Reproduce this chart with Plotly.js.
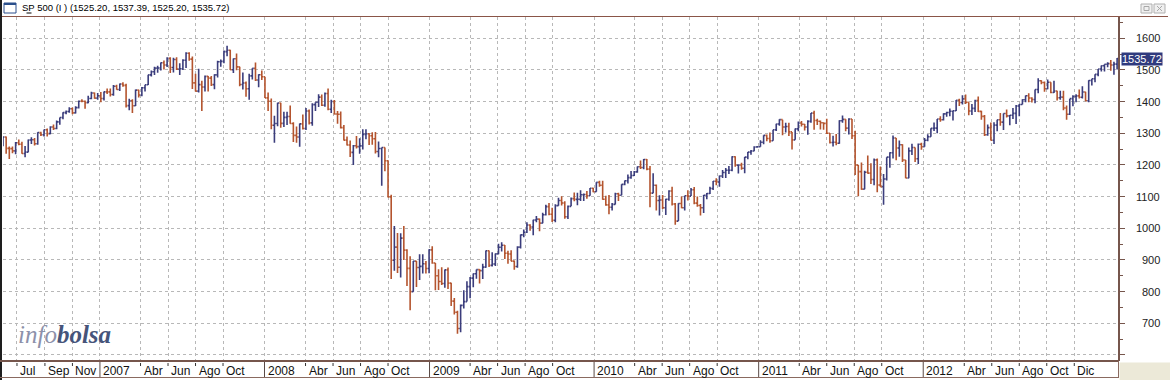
<!DOCTYPE html>
<html>
<head>
<meta charset="utf-8">
<script src="https://cdn.plot.ly/plotly-3.0.1.min.js"></script>
<style>html,body{margin:0;padding:0;background:#fff;}#chart{width:1170px;height:380px;}</style>
</head>
<body>
<div id="chart"></div>
<script>
// ---- Data: weekly S&P 500 bars (week-ending Friday, Jun 2006 - Mar 2013) ----
const firstWeek = '2006-05-31';          // Wednesday of first week shown
const firstOpen = 1280.2;

const close06 = [1288.2,1252.3,1251.5,1244.5,1270.2,1265.5,1236.2,1240.3,1278.6,1279.4,1266.7,1302.3,1295.1,1311.0,1298.9,1319.7,1314.8,1335.8,1349.6,1365.2,1368.6,1377.3,1364.3,1380.9,1401.2,1400.9,1396.7,1409.8,1427.1,1410.8,1418.3];
const high06  = [1290,1290,1258,1258,1272,1280,1273,1260,1280,1287,1285,1303,1305,1312,1315,1322,1328,1340,1350,1366,1372,1382,1381,1385,1403,1407,1403,1418,1431,1429,1427];
const low06   = [1259,1235,1219,1237,1234,1262,1235,1224,1240,1266,1261,1264,1291,1290,1290,1297,1310,1313,1327,1344,1360,1365,1360,1362,1378,1398,1377,1395,1407,1409,1406];

const close07 = [1409.7,1430.7,1430.5,1422.2,1448.4,1438.1,1455.5,1451.2,1387.2,1402.8,1386.9,1436.1,1420.9,1443.8,1452.9,1484.4,1494.3,1505.6,1505.9,1522.8,1515.7,1536.3,1507.7,1532.9,1502.6,1503.4,1530.4,1552.5,1534.1,1458.9,1433.1,1453.6,1445.9,1479.4,1474.0,1453.6,1484.3,1525.8,1526.8,1557.6,1561.8,1500.6,1535.3,1509.7,1453.7,1458.7,1440.7,1481.1,1504.7,1468.0,1484.5,1478.5];
const high07  = [1430,1432,1441,1441,1452,1453,1457,1461,1456,1409,1407,1438,1437,1446,1453,1485,1498,1510,1513,1523,1530,1540,1540,1538,1540,1521,1534,1556,1556,1542,1488,1504,1466,1482,1481,1481,1486,1529,1533,1561,1576,1564,1536,1552,1510,1492,1463,1488,1505,1523,1486,1498];
const low07   = [1398,1403,1424,1416,1418,1437,1433,1447,1381,1373,1364,1386,1413,1417,1432,1452,1479,1484,1491,1498,1501,1509,1490,1492,1500,1484,1500,1506,1529,1440,1432,1429,1370,1432,1432,1449,1439,1476,1510,1521,1543,1500,1490,1499,1448,1438,1415,1406,1470,1465,1445,1468];

const close08 = [1411.6,1401.0,1325.2,1330.6,1395.4,1331.3,1350.0,1353.1,1330.6,1293.4,1288.1,1329.5,1315.2,1370.4,1332.8,1390.3,1397.8,1413.9,1388.3,1425.4,1375.9,1400.4,1360.7,1360.0,1317.9,1278.4,1262.9,1239.5,1260.7,1257.8,1260.3,1296.3,1298.2,1292.2,1282.8,1242.3,1251.7,1255.1,1213.3,1099.2,899.2,940.6,876.8,968.8,931.0,873.3,800.0,896.2,876.1,879.7,887.9,872.8];
const high08  = [1471,1429,1410,1355,1396,1396,1368,1368,1388,1335,1321,1331,1359,1380,1375,1395,1398,1423,1422,1429,1441,1406,1405,1370,1369,1326,1290,1277,1263,1291,1284,1313,1313,1300,1303,1304,1274,1255,1255,1215,1106,1007,985,984,1007,934,912,897,897,918,918,897];
const low08   = [1411,1370,1313,1270,1322,1317,1320,1326,1330,1272,1270,1257,1312,1310,1328,1324,1370,1383,1386,1384,1373,1364,1359,1330,1315,1277,1261,1225,1200,1252,1235,1249,1281,1263,1264,1236,1224,1134,1180,1097,840,866,859,845,900,818,741,800,815,837,857,857];

const close09 = [931.8,890.4,850.1,832.0,825.9,868.6,826.8,770.1,735.1,683.4,756.6,768.5,815.9,842.5,856.6,869.6,866.2,877.5,929.2,882.9,887.0,919.1,940.1,946.2,921.2,918.9,896.4,879.1,940.4,979.3,987.5,1010.5,1004.1,1026.1,1028.9,1016.4,1042.7,1068.3,1044.4,1025.2,1071.5,1087.7,1079.6,1036.2,1069.3,1093.5,1091.4,1091.5,1106.0,1106.4,1102.5,1126.5];
const high09  = [934,943,890,871,877,870,876,828,780,740,759,804,833,846,857,870,871,888,930,930,924,920,951,956,947,929,931,898,943,980,996,1019,1013,1027,1039,1031,1049,1074,1080,1065,1076,1096,1101,1085,1072,1097,1113,1112,1120,1110,1118,1127];
const low09   = [858,888,804,805,821,812,808,755,728,667,672,747,769,779,814,841,826,840,875,878,879,881,918,927,903,888,896,869,875,936,972,985,992,978,1019,991,1016,1040,1041,1020,1019,1071,1072,1030,1029,1070,1085,1073,1086,1086,1093,1103];

const close10 = [1115.1,1145.0,1136.0,1091.8,1073.9,1066.2,1075.5,1109.2,1104.5,1138.7,1150.0,1159.9,1166.6,1178.1,1194.4,1192.1,1217.3,1186.7,1110.9,1135.7,1087.7,1089.4,1064.9,1091.6,1117.5,1076.8,1022.6,1078.0,1064.9,1102.7,1101.6,1121.6,1079.3,1071.7,1064.6,1104.5,1109.6,1125.6,1148.7,1146.2,1165.2,1176.2,1183.1,1183.3,1225.9,1199.2,1199.7,1189.4,1224.7,1240.4,1243.9,1256.8,1257.6];
const high10  = [1128,1145,1150,1150,1103,1105,1080,1112,1112,1139,1151,1170,1181,1181,1195,1214,1219,1219,1197,1174,1138,1104,1105,1093,1120,1131,1080,1079,1100,1103,1120,1127,1130,1100,1077,1105,1111,1131,1149,1158,1167,1184,1190,1197,1227,1227,1202,1207,1225,1241,1247,1259,1260];
const low10   = [1114,1116,1131,1090,1071,1044,1056,1075,1086,1105,1136,1141,1156,1165,1175,1187,1186,1183,1066,1122,1056,1040,1061,1042,1087,1072,1011,1023,1063,1056,1088,1104,1076,1068,1040,1048,1092,1108,1121,1136,1131,1159,1159,1171,1180,1194,1173,1185,1174,1218,1232,1243,1254];

const close11 = [1271.5,1293.2,1283.4,1276.3,1310.9,1329.2,1343.0,1319.9,1321.2,1304.3,1279.2,1313.8,1332.4,1328.2,1319.7,1337.4,1363.6,1340.2,1337.8,1333.3,1331.1,1300.2,1271.0,1271.5,1268.5,1339.7,1343.8,1316.1,1345.0,1292.3,1199.4,1178.8,1123.5,1176.8,1174.0,1154.2,1216.0,1136.4,1131.4,1155.5,1224.6,1238.3,1285.1,1253.2,1263.9,1215.7,1158.7,1244.3,1255.2,1219.7,1265.3,1257.6];
const high11  = [1278,1294,1296,1302,1311,1330,1344,1343,1333,1333,1303,1315,1337,1339,1329,1341,1364,1371,1346,1340,1334,1346,1301,1292,1298,1341,1356,1344,1347,1345,1308,1200,1208,1182,1230,1205,1220,1220,1195,1171,1224,1240,1293,1285,1277,1265,1215,1255,1267,1255,1268,1270];
const low11   = [1257,1265,1275,1270,1276,1307,1324,1294,1302,1291,1249,1280,1306,1321,1309,1295,1333,1311,1326,1312,1311,1298,1268,1258,1262,1267,1333,1306,1296,1282,1168,1101,1122,1124,1172,1140,1136,1114,1131,1074,1151,1191,1220,1215,1226,1209,1158,1158,1231,1209,1203,1248];

const close12 = [1277.8,1289.1,1315.4,1316.3,1344.9,1342.6,1361.2,1365.7,1369.6,1370.9,1404.2,1397.1,1408.5,1398.1,1370.3,1378.5,1403.4,1369.1,1353.4,1295.2,1317.8,1278.0,1325.7,1342.8,1335.0,1362.2,1354.7,1356.8,1362.7,1386.0,1391.0,1405.9,1418.2,1411.1,1406.6,1437.9,1465.8,1460.2,1440.7,1460.9,1428.6,1433.2,1411.9,1414.2,1379.9,1359.9,1409.2,1416.2,1418.1,1413.6,1430.2,1402.4];
const high12  = [1285,1297,1316,1334,1345,1354,1363,1368,1378,1372,1405,1409,1420,1422,1397,1392,1406,1416,1371,1358,1328,1334,1335,1343,1364,1362,1375,1357,1380,1389,1392,1407,1419,1426,1414,1438,1474,1467,1463,1470,1461,1466,1434,1434,1434,1388,1409,1420,1423,1438,1448,1431];
const low12   = [1258,1275,1290,1307,1300,1336,1340,1352,1354,1340,1370,1386,1391,1392,1357,1358,1367,1367,1343,1291,1292,1277,1266,1306,1324,1310,1350,1325,1345,1329,1354,1391,1398,1398,1397,1395,1426,1455,1431,1439,1426,1427,1403,1406,1373,1343,1358,1385,1398,1410,1410,1401];

const close13 = [1466.5,1472.1,1486.0,1503.0,1513.2,1517.9,1519.8,1515.6,1518.2,1535.72];
const high13  = [1467,1472,1486,1503,1514,1518,1524,1531,1526,1537.39];
const low13   = [1398,1451,1461,1480,1495,1495,1508,1497,1485,1501];

// Axis labels
const tickDates  = ['2006-07-01','2006-09-01','2006-11-01','2007-01-01','2007-04-01','2007-06-01','2007-08-01','2007-10-01',
                    '2008-01-01','2008-04-01','2008-06-01','2008-08-01','2008-10-01','2009-01-01','2009-04-01','2009-06-01','2009-08-01','2009-10-01',
                    '2010-01-01','2010-04-01','2010-06-01','2010-08-01','2010-10-01','2011-01-01','2011-04-01','2011-06-01','2011-08-01','2011-10-01',
                    '2012-01-01','2012-04-01','2012-06-01','2012-08-01','2012-10-01','2012-12-01'];
const tickLabels = ['Jul','Sep','Nov','2007','Abr','Jun','Ago','Oct','2008','Abr','Jun','Ago','Oct','2009','Abr','Jun','Ago','Oct',
                    '2010','Abr','Jun','Ago','Oct','2011','Abr','Jun','Ago','Oct','2012','Abr','Jun','Ago','Oct','Dic'];
const priceTicks = [600,700,800,900,1000,1100,1200,1300,1400,1500,1600];
const priceLabels = ['','700','800','900','1000','1100','1200','1300','1400','1500','1600'];
const titleText = 'SP 500 (I ) (1525.20, 1537.39, 1525.20, 1535.72)';
const lastPrice = 1535.72;

// ---- Build the table ----
const close = [].concat(close06,close07,close08,close09,close10,close11,close12,close13);
const high  = [].concat(high06,high07,high08,high09,high10,high11,high12,high13);
const low   = [].concat(low06,low07,low08,low09,low10,low11,low12,low13);
const open  = close.map((c,i)=> i===0 ? firstOpen : close[i-1]);
const hi = high.map((h,i)=>Math.max(h,open[i],close[i]));
const lo = low.map((l,i)=>Math.min(l,open[i],close[i]));
const t0 = Date.parse(firstWeek+'T00:00:00Z');
const dates = close.map((c,i)=> new Date(t0 + i*7*86400000).toISOString().slice(0,10));

const UP = '#3b3d7c', DN = '#b4542e', BROWN = '#76564c';
const FONT = 'Liberation Sans, Arial, sans-serif';

// pixel helpers for frame decorations
const PL=3, PR=1118, PT=17, PB=361;
const px = x => (x-PL)/(PR-PL);
const py = y => (PB-y)/(PB-PT);

const shapes = [];
const ann = [];
// title bar
shapes.push({type:'rect',xref:'paper',yref:'paper',x0:px(0),x1:px(1170),y0:py(0),y1:py(16),fillcolor:'#ffffff',line:{width:0},layer:'below'});
shapes.push({type:'line',xref:'paper',yref:'paper',x0:px(0),x1:px(1168),y0:py(16.5),y1:py(16.5),line:{color:'#8a5548',width:1}});
// window icon
shapes.push({type:'rect',xref:'paper',yref:'paper',x0:px(4),x1:px(16),y0:py(3),y1:py(13),fillcolor:'#ffffff',line:{color:'#2a4f8c',width:1}});
shapes.push({type:'rect',xref:'paper',yref:'paper',x0:px(4),x1:px(16),y0:py(3),y1:py(5),fillcolor:'#2a4f8c',line:{width:0}});
// underline of P
shapes.push({type:'line',xref:'paper',yref:'paper',x0:px(26.5),x1:px(31.5),y0:py(13),y1:py(13),line:{color:'#000',width:1}});
// title-bar buttons
shapes.push({type:'rect',xref:'paper',yref:'paper',x0:px(1141),x1:px(1152),y0:py(4),y1:py(13),fillcolor:'#f0f0f0',line:{color:'#b0b0b0',width:1}});
shapes.push({type:'rect',xref:'paper',yref:'paper',x0:px(1144),x1:px(1149),y0:py(6.5),y1:py(10.5),fillcolor:'rgba(0,0,0,0)',line:{color:'#a8a8a8',width:1}});
shapes.push({type:'rect',xref:'paper',yref:'paper',x0:px(1154),x1:px(1165),y0:py(4),y1:py(13),fillcolor:'#f0f0f0',line:{color:'#b0b0b0',width:1}});
shapes.push({type:'line',xref:'paper',yref:'paper',x0:px(1157),x1:px(1162),y0:py(6),y1:py(11),line:{color:'#a8a8a8',width:1}});
shapes.push({type:'line',xref:'paper',yref:'paper',x0:px(1157),x1:px(1162),y0:py(11),y1:py(6),line:{color:'#a8a8a8',width:1}});
// left window border
shapes.push({type:'line',xref:'paper',yref:'paper',x0:px(1),x1:px(1),y0:py(0),y1:py(380),line:{color:'#1e1e1e',width:2}});
// bottom strip
shapes.push({type:'line',xref:'paper',yref:'paper',x0:px(0),x1:px(1119),y0:py(361),y1:py(361),line:{color:BROWN,width:2}});
shapes.push({type:'line',xref:'paper',yref:'paper',x0:px(0),x1:px(1119),y0:py(377.5),y1:py(377.5),line:{color:'#8a6a60',width:1}});
shapes.push({type:'line',xref:'paper',yref:'paper',x0:px(1118.5),x1:px(1118.5),y0:py(361),y1:py(378),line:{color:'#8a6a60',width:1}});
shapes.push({type:'rect',xref:'paper',yref:'paper',x0:px(1119.5),x1:px(1171),y0:py(362.5),y1:py(381),fillcolor:'#ece9d8',line:{width:0}});

tickDates.forEach((d,i)=>{
  const isYear = /^\d{4}$/.test(tickLabels[i]);
  if (isYear) {
    shapes.push({type:'line',xref:'x',yref:'paper',x0:d,x1:d,y0:py(362),y1:py(377),line:{color:'#5a4a46',width:1}});
  } else {
    shapes.push({type:'line',xref:'x',yref:'paper',x0:d,x1:d,y0:py(363),y1:py(366),line:{color:'#333',width:1}});
  }
  ann.push({xref:'x',yref:'paper',x:d,y:py(370.5),xanchor:'left',yanchor:'middle',xshift:1,showarrow:false,
            text:tickLabels[i],font:{family:FONT,size:12,color:'#111'}});
});

// price axis labels, right aligned
priceTicks.forEach((v,i)=>{
  if (!priceLabels[i]) return;
  ann.push({xref:'paper',yref:'y',x:px(1162),y:v,xanchor:'right',yanchor:'middle',showarrow:false,
            text:priceLabels[i],font:{family:FONT,size:11,color:'#222'}});
});
// last price box
ann.push({xref:'paper',yref:'y',x:px(1121),y:lastPrice,xanchor:'left',yanchor:'middle',showarrow:false,
          text:lastPrice.toFixed(2),bgcolor:'#2f3a7e',borderpad:0,font:{family:FONT,size:11,color:'#ffffff'}});
// title
ann.push({xref:'paper',yref:'paper',x:px(20),y:py(8),xanchor:'left',yanchor:'middle',showarrow:false,
          text:titleText,font:{family:FONT,size:9.5,color:'#000'}});
// watermark
ann.push({xref:'paper',yref:'paper',x:px(16),y:py(334),xanchor:'left',yanchor:'middle',showarrow:false,
          text:"<i><span style='color:#8d91aa'>info</span><span style='color:#46547a;font-weight:bold'>bolsa</span></i>",
          font:{family:'Liberation Serif, DejaVu Serif, serif',size:25}});

const trace = {
  type:'ohlc', x:dates, open:open, high:hi, low:lo, close:close,
  increasing:{line:{color:UP,width:1.6}}, decreasing:{line:{color:DN,width:1.6}},
  tickwidth:0.45, hoverinfo:'skip', showlegend:false
};

const layout = {
  width:1170, height:380,
  margin:{l:PL, r:1170-PR, t:PT, b:380-PB, pad:0},
  paper_bgcolor:'#ffffff', plot_bgcolor:'#ffffff',
  showlegend:false,
  xaxis:{type:'date', range:['2006-05-31','2013-03-08'], rangeslider:{visible:false},
         tickmode:'array', tickvals:tickDates, showticklabels:false, ticks:'',
         showgrid:true, gridcolor:'#b8b8b8', griddash:'3px,3px', gridwidth:1,
         zeroline:false, showline:false, fixedrange:true},
  yaxis:{side:'right', range:[581,1667], tickmode:'array', tickvals:priceTicks, showticklabels:false,
         ticks:'outside', ticklen:5, tickcolor:BROWN, tickwidth:1,
         minor:{dtick:50, tick0:0, ticks:'outside', ticklen:3, tickcolor:BROWN, showgrid:false},
         showgrid:true, gridcolor:'#b8b8b8', griddash:'3px,3px', gridwidth:1,
         showline:true, linecolor:BROWN, linewidth:2, zeroline:false, fixedrange:true},
  shapes:shapes, annotations:ann
};

Plotly.newPlot('chart',[trace],layout,{displayModeBar:false,staticPlot:true});
</script>
</body>
</html>
